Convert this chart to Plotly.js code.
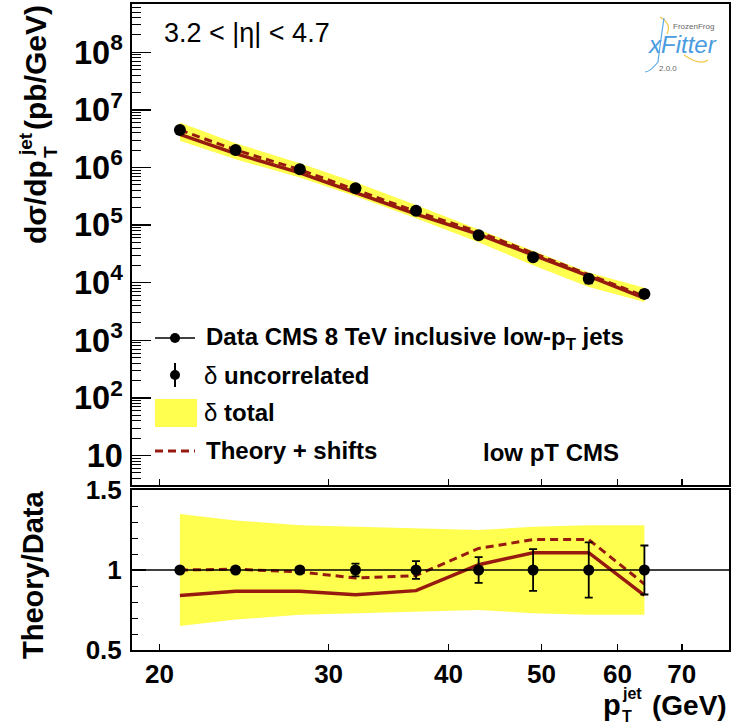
<!DOCTYPE html>
<html>
<head>
<meta charset="utf-8">
<script src="https://cdn.plot.ly/plotly-3.0.1.min.js"></script>
<style>html,body{margin:0;padding:0;background:#fff;}#plot{width:731px;height:728px;}</style>
</head>
<body>
<div id="plot"></div>
<script>
// ---- data ----
const pt = [21, 24, 28, 32, 37, 43, 49, 56, 64];                       // GeV
const xsec = [4.48e6, 2.01e6, 9.3e5, 4.36e5, 1.78e5, 6.7e4, 2.76e4, 1.17e4, 6.4e3]; // pb/GeV
const totRel = [0.35, 0.31, 0.28, 0.27, 0.26, 0.25, 0.27, 0.28, 0.28];  // delta total (relative)
const uncRel = [0.01, 0.015, 0.02, 0.04, 0.056, 0.08, 0.13, 0.173, 0.153]; // delta uncorrelated (relative)
const theoryRatio = [0.84, 0.867, 0.867, 0.846, 0.871, 1.033, 1.108, 1.108, 0.842];
const shiftRatio = [1.0, 1.005, 0.988, 0.95, 0.965, 1.135, 1.19, 1.19, 0.912];
const dataRatio = [1, 1, 1, 1, 1, 1, 1, 1, 1];
const xTicks = [20, 30, 40, 50, 60, 70];
const xTickText = ['20', '30', '40', '50', '60', '70'];
const rTicks = [0.5, 1, 1.5];
const rTickText = ['0.5', '1', '1.5'];

// ---- derived series ----
const bandHi = xsec.map((v, i) => v * (1 + totRel[i]));
const bandLo = xsec.map((v, i) => v * (1 - totRel[i]));
const errTop = xsec.map((v, i) => v * uncRel[i]);
const thTop = xsec.map((v, i) => v * theoryRatio[i]);
const shTop = xsec.map((v, i) => v * shiftRatio[i]);
const rHi = dataRatio.map((v, i) => v + totRel[i]);
const rLo = dataRatio.map((v, i) => v - totRel[i]);

const YEL = '#ffff50';
const RED = '#961a0f';
const FONT = 'Liberation Sans, Arial, Helvetica, sans-serif';

// pixel -> paper helpers (plot area: x 132..729, y 4..650)
const L = 132, R = 2, T = 4, B = 78, W = 731, H = 728;
const PW = W - L - R, PH = H - T - B;
const X = px => (px - L) / PW;
const Y = py => (H - B - py) / PH;

const traces = [
  // top panel
  {x: pt, y: bandLo, xaxis: 'x', yaxis: 'y', mode: 'lines', line: {width: 0, color: YEL}, hoverinfo: 'skip', showlegend: false},
  {x: pt, y: bandHi, xaxis: 'x', yaxis: 'y', mode: 'lines', line: {width: 0, color: YEL}, fill: 'tonexty', fillcolor: YEL, showlegend: false},
  {x: pt, y: thTop, xaxis: 'x', yaxis: 'y', mode: 'lines', line: {width: 3.5, color: RED}, showlegend: false},
  {x: pt, y: shTop, xaxis: 'x', yaxis: 'y', mode: 'lines', line: {width: 3, color: RED, dash: '8px,5px'}, showlegend: false},
  {x: pt, y: xsec, xaxis: 'x', yaxis: 'y', mode: 'markers', marker: {size: 12, color: 'black'},
   error_y: {type: 'data', array: errTop, color: 'black', thickness: 1.5, width: 4}, showlegend: false},
  // bottom panel
  {x: pt, y: rLo, xaxis: 'x2', yaxis: 'y2', mode: 'lines', line: {width: 0, color: YEL}, hoverinfo: 'skip', showlegend: false},
  {x: pt, y: rHi, xaxis: 'x2', yaxis: 'y2', mode: 'lines', line: {width: 0, color: YEL}, fill: 'tonexty', fillcolor: YEL, showlegend: false},
  {x: pt, y: theoryRatio, xaxis: 'x2', yaxis: 'y2', mode: 'lines', line: {width: 3.5, color: RED}, showlegend: false},
  {x: pt, y: shiftRatio, xaxis: 'x2', yaxis: 'y2', mode: 'lines', line: {width: 3, color: RED, dash: '8px,5px'}, showlegend: false},
  {x: pt, y: dataRatio, xaxis: 'x2', yaxis: 'y2', mode: 'markers', marker: {size: 11, color: 'black'},
   error_y: {type: 'data', array: uncRel, color: 'black', thickness: 1.8, width: 4}, showlegend: false}
];

const xRange = [Math.log10(18.72), Math.log10(78.4)];
const tickFont = {family: FONT, size: 26, color: 'black', weight: 'bold'};
const axLine = {showline: true, linecolor: 'black', linewidth: 2, mirror: true, showgrid: false, zeroline: false};

const yTopLo = Y(485), yBotHi = Y(490);
const bold = (size) => ({family: FONT, size: size, color: 'black', weight: 'bold'});
const txt = (px, py, text, font, extra) => Object.assign({xref: 'paper', yref: 'paper', x: X(px), y: Y(py),
  xanchor: 'left', yanchor: 'middle', showarrow: false, text: text, font: font}, extra || {});

const layout = {
  width: W, height: H,
  margin: {l: L, r: R, t: T, b: B, pad: 0},
  paper_bgcolor: 'white', plot_bgcolor: 'white',
  showlegend: false,
  font: {family: FONT, color: 'black'},
  xaxis: Object.assign({type: 'log', range: xRange, domain: [0, 1], anchor: 'y',
    tickvals: xTicks, ticktext: xTickText, showticklabels: false,
    ticks: 'inside', ticklen: 6, tickwidth: 1.5, tickcolor: 'black'}, axLine),
  yaxis: Object.assign({type: 'log', range: [0.488, 8.839], domain: [yTopLo, 1], anchor: 'x',
    dtick: 1, exponentformat: 'power', ticks: 'inside', ticklen: 19, tickwidth: 1.5, tickcolor: 'black',
    tickfont: tickFont, ticklabelstandoff: 2,
    minor: {ticks: 'inside', ticklen: 9, dtick: 'D1', tickcolor: 'black', tickwidth: 1, showgrid: false}}, axLine),
  xaxis2: Object.assign({type: 'log', range: xRange, domain: [0, 1], anchor: 'y2',
    tickvals: xTicks, ticktext: xTickText, tickfont: tickFont,
    ticks: 'inside', ticklen: 6, tickwidth: 1.5, tickcolor: 'black'}, axLine),
  yaxis2: Object.assign({range: [0.5, 1.5], domain: [0, yBotHi], anchor: 'x2',
    tickvals: rTicks, ticktext: rTickText, tickfont: tickFont,
    ticks: 'inside', ticklen: 14, tickwidth: 1.5, tickcolor: 'black', ticklabelstandoff: 3,
    minor: {ticks: 'inside', ticklen: 6, dtick: 0.1, tickcolor: 'black', tickwidth: 1, showgrid: false}}, axLine),
  shapes: [
    // ratio = 1 reference line
    {type: 'line', xref: 'x2 domain', yref: 'y2', x0: 0, x1: 1, y0: 1, y1: 1, line: {color: 'black', width: 1.5}, layer: 'above'},
    // legend symbols
    {type: 'line', xref: 'paper', yref: 'paper', x0: X(155), x1: X(195), y0: Y(338), y1: Y(338), line: {color: 'black', width: 1.5}},
    {type: 'circle', xref: 'paper', yref: 'paper', x0: X(170), x1: X(180), y0: Y(343), y1: Y(333), fillcolor: 'black', line: {width: 0}},
    {type: 'line', xref: 'paper', yref: 'paper', x0: X(175), x1: X(175), y0: Y(363), y1: Y(387), line: {color: 'black', width: 2}},
    {type: 'circle', xref: 'paper', yref: 'paper', x0: X(170), x1: X(180), y0: Y(380), y1: Y(370), fillcolor: 'black', line: {width: 0}},
    {type: 'rect', xref: 'paper', yref: 'paper', x0: X(155), x1: X(197), y0: Y(427), y1: Y(399), fillcolor: YEL, line: {width: 0}},
    {type: 'line', xref: 'paper', yref: 'paper', x0: X(155), x1: X(195), y0: Y(451), y1: Y(451), line: {color: RED, width: 3, dash: '8px,5px'}},
    // logo decoration
    {type: 'path', xref: 'paper', yref: 'paper', line: {color: '#f2c94c', width: 1.2},
     path: `M ${X(660)},${Y(17)} Q ${X(672)},${Y(24)} ${X(667)},${Y(34)} M ${X(684)},${Y(55)} Q ${X(700)},${Y(66)} ${X(708)},${Y(60)}`},
    {type: 'path', xref: 'paper', yref: 'paper', line: {color: '#5aa7e6', width: 1.2},
     path: `M ${X(664)},${Y(18)} Q ${X(660)},${Y(45)} ${X(658)},${Y(62)} Q ${X(650)},${Y(72)} ${X(645)},${Y(72)}`}
  ],
  annotations: [
    txt(162, 33, '3.2 &lt; |η| &lt; 4.7', {family: FONT, size: 27, color: 'black'}),
    txt(204, 338, 'Data CMS 8 TeV inclusive low-p<sub>T</sub> jets', bold(24)),
    txt(202, 375, '<span style="font-weight:normal">δ</span> uncorrelated', bold(24)),
    txt(202, 412, '<span style="font-weight:normal">δ</span> total', bold(24)),
    txt(204, 450, 'Theory + shifts', bold(24)),
    txt(481, 452, 'low pT CMS', bold(24)),
    // y title (stacked p_T^jet built from pieces)
    txt(35, 202, 'dσ/dp', bold(30), {xanchor: 'center', textangle: -90}),
    txt(26, 144, 'jet', bold(19), {xanchor: 'center', textangle: -90}),
    txt(50, 152, 'T', bold(19), {xanchor: 'center', textangle: -90}),
    txt(35, 68, '(pb/GeV)', bold(30), {xanchor: 'center', textangle: -90}),
    txt(33, 575, 'Theory/Data', bold(29), {xanchor: 'center', textangle: -90}),
    // x title (stacked p_T^jet)
    txt(601, 705, 'p', bold(29)),
    txt(620, 694, 'jet', bold(16)),
    txt(620, 716, 'T', bold(16)),
    txt(650, 705, '(GeV)', bold(28)),
    // logo text
    txt(693, 27, 'FrozenFrog', {family: FONT, size: 8, color: '#666'}, {xanchor: 'center'}),
    txt(682, 45, '<i>xFitter</i>', {family: FONT, size: 24, color: '#4a9be0'}, {xanchor: 'center'}),
    txt(668, 68, '2.0.0', {family: FONT, size: 8, color: '#666'}, {xanchor: 'center'})
  ]
};

Plotly.newPlot('plot', traces, layout, {staticPlot: true, displayModeBar: false});
</script>
</body>
</html>
